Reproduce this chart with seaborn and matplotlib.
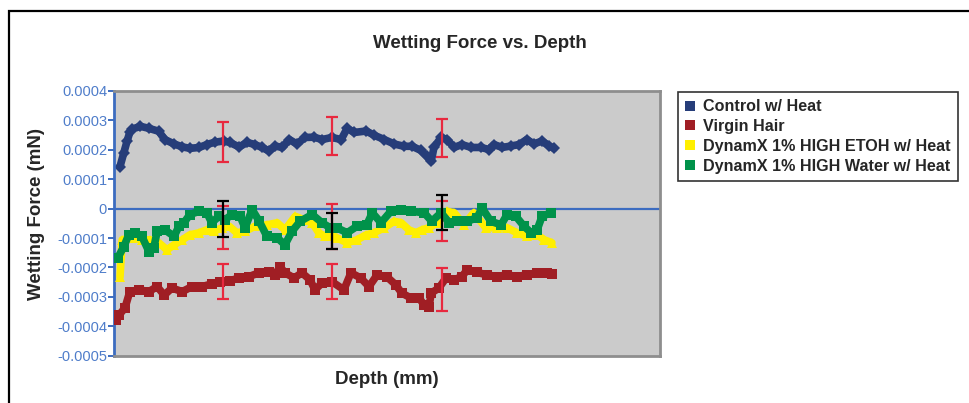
"""Wetting force vs depth scatter, redrawn with seaborn."""

import matplotlib
matplotlib.use("Agg")
import matplotlib.pyplot as plt
from matplotlib.lines import Line2D
from matplotlib.patches import Rectangle
import numpy as np
import pandas as pd
import seaborn as sns

# values (force in units of 1e-4 mN)
control_depth = [1.1, 1.8, 2.4, 2.9, 3.3, 4.8, 6.4, 8.2, 9.3, 11.0,
                 12.5, 13.9, 15.6, 17.0, 18.5, 20.1, 21.2, 22.9, 24.4, 25.8,
                 27.1, 28.4, 29.5, 30.8, 32.1, 33.5, 35.0, 36.6, 38.1, 39.9,
                 41.6, 42.7, 44.0, 46.2, 47.6, 49.5, 51.3, 53.1, 54.6, 56.2,
                 57.3, 58.1, 58.6, 59.9, 61.0, 62.3, 63.7, 65.4, 67.2, 68.7,
                 69.6, 71.1, 72.7, 74.2, 75.6, 76.9, 78.4, 79.7, 80.6]
control_force = [1.43, 1.9, 2.3, 2.6, 2.7, 2.8, 2.73, 2.63, 2.35, 2.2,
                 2.1, 2.05, 2.08, 2.18, 2.26, 2.3, 2.25, 2.1, 2.25, 2.18,
                 2.08, 1.96, 2.13, 2.08, 2.35, 2.2, 2.42, 2.43, 2.35, 2.42,
                 2.35, 2.73, 2.59, 2.64, 2.5, 2.35, 2.2, 2.12, 2.12, 1.98,
                 1.78, 1.61, 2.08, 2.42, 2.35, 2.08, 2.18, 2.08, 2.08, 2.01,
                 2.18, 2.08, 2.13, 2.18, 2.35, 2.2, 2.3, 2.13, 2.05]

virgin_depth = [0.4, 0.9, 2.0, 2.9, 4.6, 6.4, 7.9, 9.2, 10.6, 12.5,
                14.3, 16.1, 17.9, 19.4, 21.2, 22.9, 24.7, 26.6, 28.4, 29.5,
                30.4, 31.3, 33.0, 34.4, 35.9, 36.8, 38.1, 39.9, 42.1, 43.4,
                45.2, 46.7, 48.2, 50.0, 51.6, 52.7, 54.4, 55.9, 56.8, 57.7,
                58.1, 59.5, 60.8, 62.3, 63.7, 64.7, 66.5, 68.3, 70.1, 72.0,
                73.8, 75.6, 77.5, 79.3, 80.2]
virgin_force = [-3.77, -3.62, -3.38, -2.82, -2.76, -2.82, -2.65, -2.94, -2.70, -2.82,
                -2.65, -2.65, -2.56, -2.48, -2.45, -2.36, -2.31, -2.18, -2.14, -2.25,
                -1.97, -2.18, -2.36, -2.18, -2.42, -2.76, -2.53, -2.48, -2.76, -2.18,
                -2.36, -2.65, -2.25, -2.32, -2.59, -2.87, -3.04, -3.04, -3.28, -3.33,
                -2.87, -2.70, -2.36, -2.42, -2.31, -2.08, -2.17, -2.25, -2.31, -2.25,
                -2.31, -2.25, -2.18, -2.18, -2.21]

etoh_depth = [1.1, 1.5, 3.3, 5.1, 6.6, 8.2, 9.7, 11.0, 12.5, 13.9,
              15.6, 17.0, 18.3, 19.8, 21.1, 22.5, 24.0, 25.8, 28.0, 29.9,
              31.3, 33.2, 34.8, 36.3, 37.5, 38.6, 40.3, 40.8, 42.7, 44.5,
              46.2, 47.6, 49.5, 51.3, 52.6, 54.0, 55.3, 56.4, 57.7, 59.2,
              61.0, 62.3, 64.1, 65.9, 68.1, 70.1, 72.0, 73.8, 75.6, 77.5,
              78.8, 80.2]
etoh_force = [-2.32, -1.06, -0.99, -1.06, -1.06, -1.16, -1.40, -1.23, -1.06, -0.89,
              -0.82, -0.72, -0.77, -0.65, -0.60, -0.82, -0.77, -0.60, -0.55, -0.48,
              -0.72, -0.26, -0.38, -0.48, -0.82, -0.94, -0.94, -0.99, -1.16, -1.06,
              -0.89, -0.82, -0.65, -0.43, -0.48, -0.72, -0.82, -0.72, -0.65, -0.48,
              -0.09, -0.14, -0.55, -0.14, -0.65, -0.65, -0.65, -0.82, -0.94, -0.89,
              -1.06, -1.16]

water_depth = [0.7, 1.8, 2.7, 3.8, 5.1, 6.4, 7.3, 7.9, 9.3, 11.0,
               11.9, 12.8, 13.9, 15.6, 17.0, 17.9, 19.2, 20.3, 21.6, 23.1,
               24.0, 25.3, 26.6, 28.0, 29.9, 31.3, 32.6, 34.1, 36.3, 38.1,
               39.6, 40.8, 42.7, 44.5, 46.3, 47.3, 48.9, 50.7, 52.6, 54.4,
               56.8, 58.2, 59.9, 61.4, 62.8, 64.7, 66.5, 67.4, 69.0, 70.9,
               72.0, 73.6, 75.1, 76.4, 77.5, 78.4, 80.0]
water_force = [-1.67, -1.29, -0.89, -0.82, -0.94, -1.46, -1.33, -0.77, -0.72, -0.94,
               -0.60, -0.48, -0.20, -0.09, -0.14, -0.48, -0.26, -0.38, -0.20, -0.26,
               -0.65, -0.03, -0.43, -0.94, -0.99, -1.23, -0.77, -0.43, -0.20, -0.48,
               -0.65, -0.65, -0.82, -0.60, -0.55, -0.14, -0.48, -0.09, -0.06, -0.09,
               -0.14, -0.43, -0.14, -0.48, -0.43, -0.43, -0.31, 0.03, -0.43, -0.55,
               -0.20, -0.26, -0.60, -0.82, -0.72, -0.26, -0.14]

# error bars (centre and half width, 1e-4 mN)
err_depth = [20, 40, 60]
control_err_mid = [2.27, 2.47, 2.40]
control_err = [0.69, 0.65, 0.65]
virgin_err_mid = [-2.48, -2.48, -2.75]
virgin_err = [0.60, 0.60, 0.72]
etoh_err_mid = [-0.63, -0.60, -0.43]
etoh_err = [0.73, 0.77, 0.68]
water_err_mid = [-0.36, -0.76, -0.13]
water_err = [0.61, 0.61, 0.61]

series_names = ["Control w/ Heat", "Virgin Hair",
                "DynamX 1% HIGH ETOH w/ Heat", "DynamX 1% HIGH Water w/ Heat"]
series_colors = ["#263D79", "#A01E24", "#FFEF00", "#00924A"]
series_markers = ["D", "s", "^", "s"]

y_ticks = [-0.0005, -0.0004, -0.0003, -0.0002, -0.0001, 0,
           0.0001, 0.0002, 0.0003, 0.0004]
y_tick_labels = ["-0.0005", "-0.0004", "-0.0003", "-0.0002", "-0.0001", "0",
                 "0.0001", "0.0002", "0.0003", "0.0004"]

AXIS_BLUE = "#3C6CC0"
TICK_BLUE = "#4F7DCA"


def build_frame() -> pd.DataFrame:
    parts = []
    for name, d, f in zip(series_names,
                          [control_depth, virgin_depth, etoh_depth, water_depth],
                          [control_force, virgin_force, etoh_force, water_force]):
        parts.append(pd.DataFrame({"Depth": d,
                                   "Force": np.array(f) * 1e-4,
                                   "Series": name}))
    return pd.concat(parts, ignore_index=True)


def main() -> None:
    sns.set_style("white")
    plt.rcParams["font.family"] = ["Liberation Sans", "DejaVu Sans"]

    df = build_frame()

    fig = plt.figure(figsize=(9.69, 4.03), dpi=100)
    ax = fig.add_axes([114 / 969, 1 - 355.7 / 403, 546 / 969, 264.7 / 403])
    ax.set_facecolor("#CBCBCB")

    ax.axhline(0, color=AXIS_BLUE, lw=1.6, zorder=1.5)

    # thick line + dense markers to imitate the packed marker band
    for i, name in enumerate(series_names):
        sub = df[df["Series"] == name]
        sns.lineplot(data=sub, x="Depth", y="Force", ax=ax, sort=False,
                     estimator=None, color=series_colors[i], lw=5.5,
                     marker=series_markers[i],
                     markersize=7.5 if series_markers[i] == "^" else 6.5,
                     markeredgewidth=0, zorder=2 + i, legend=False)

    bars = [(control_err_mid, control_err, "#E8293F"),
            (virgin_err_mid, virgin_err, "#E8293F"),
            (etoh_err_mid, etoh_err, "#E8293F"),
            (water_err_mid, water_err, "black")]
    for mid, err, col in bars:
        ax.errorbar(err_depth, np.array(mid) * 1e-4, yerr=np.array(err) * 1e-4,
                    fmt="none", ecolor=col, elinewidth=1.6, capsize=4,
                    capthick=1.6, zorder=8)

    ax.set_xlim(0, 100)
    ax.set_ylim(-0.0005, 0.0004)
    ax.set_xticks([])
    ax.set_yticks(y_ticks)
    ax.set_yticklabels(y_tick_labels)
    ax.tick_params(axis="y", direction="out", length=4, width=1.4,
                   color=AXIS_BLUE, labelcolor=TICK_BLUE, labelsize=10.5, pad=1,
                   left=True)
    ax.set_xlabel("")
    ax.set_ylabel("")

    for side in ["top", "right", "bottom"]:
        ax.spines[side].set_color("#8E8E8E")
        ax.spines[side].set_linewidth(2)
    ax.spines["left"].set_color(AXIS_BLUE)
    ax.spines["left"].set_linewidth(2)

    fig.text(480 / 969, 1 - 43 / 403, "Wetting Force vs. Depth",
             ha="center", va="center", fontsize=13.5, fontweight="bold")
    fig.text(387 / 969, 1 - 379 / 403, "Depth (mm)",
             ha="center", va="center", fontsize=13.5, fontweight="bold")
    fig.text(37 / 969, 1 - 214 / 403, "Wetting Force (mN)", rotation=90,
             ha="center", va="center", fontsize=13.5, fontweight="bold")

    handles = [Line2D([], [], ls="none", marker="s", markersize=7,
                      markerfacecolor=c, markeredgewidth=0)
               for c in series_colors]
    leg = fig.legend(handles, series_names, loc="upper left",
                     bbox_to_anchor=(678 / 969, 1 - 92 / 403),
                     prop={"weight": "bold", "size": 11.6},
                     frameon=True, fancybox=False, handlelength=0.6,
                     handletextpad=0.5, labelspacing=0.3, borderpad=0.45,
                     borderaxespad=0)
    leg.get_frame().set_edgecolor("black")
    leg.get_frame().set_linewidth(1.2)

    fig.add_artist(Rectangle((9 / 969, -0.5), 2, 1.5 - 11 / 403,
                             transform=fig.transFigure, fill=False,
                             edgecolor="black", lw=1.6, clip_on=False))

    fig.savefig("out.png", dpi=100)
    plt.close(fig)


if __name__ == "__main__":
    main()
